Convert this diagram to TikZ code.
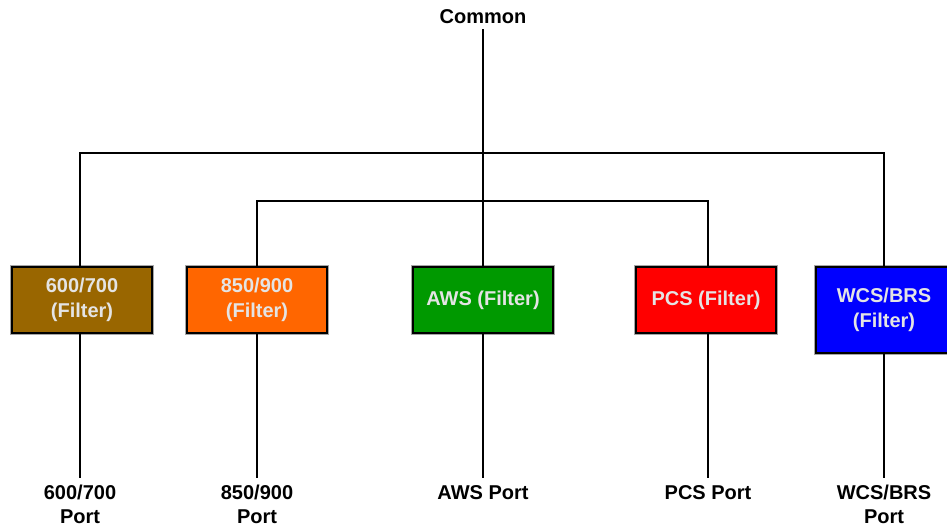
\documentclass[tikz,border=0pt]{standalone}
\usepackage{fontspec}
\setmainfont{Liberation Sans}
\definecolor{cbrown}{HTML}{996600}
\definecolor{corange}{HTML}{FF6600}
\definecolor{cgreen}{HTML}{009900}
\definecolor{cred}{HTML}{FF0000}
\definecolor{cblue}{HTML}{0000FF}
\definecolor{boxtext}{HTML}{E4E4E4}
\tikzset{
  lbl/.style={font=\bfseries\fontsize{20}{24}\selectfont, align=center, text=black},
  filterbox/.style={draw=black, line width=2pt, minimum width=140pt, minimum height=66pt,
    inner sep=0pt, font=\bfseries\fontsize{20}{25}\selectfont, align=center, text=boxtext,
    preaction={draw=black!35, line width=3.5pt}},
  portlbl/.style={lbl, anchor=north, inner sep=7pt},
  wire/.style={line width=2pt, black}
}
\begin{document}
\begin{tikzpicture}[x=1pt,y=-1pt]
\useasboundingbox (0,0) rectangle (947,527);
\fill[white] (0,0) rectangle (947,527);

\node[lbl, inner sep=5pt] (common) at (483,17) {Common};

\node[filterbox, fill=cbrown]  (b1) at (82,300)  {600/700\\(Filter)};
\node[filterbox, fill=corange] (b2) at (257,300) {850/900\\(Filter)};
\node[filterbox, fill=cgreen]  (b3) at (483,300) {AWS (Filter)};
\node[filterbox, fill=cred]    (b4) at (706,300) {PCS (Filter)};
\node[filterbox, fill=cblue, minimum width=136pt, minimum height=86pt] (b5) at (884,310) {WCS/BRS\\(Filter)};

\node[portlbl] (p1) at (80,478)  {600/700\\Port};
\node[portlbl] (p2) at (257,478) {850/900\\Port};
\node[portlbl] (p3) at (483,478) {AWS Port};
\node[portlbl] (p4) at (708,478) {PCS Port};
\node[portlbl] (p5) at (884,478) {WCS/BRS\\Port};

\coordinate (j1) at (483,153);
\coordinate (j2) at (483,201);

\draw[wire, line width=2.5pt] (common.south) -- (b3.north);
\draw[wire] (p1.north |- b1.north) |- (j1) -| (p5.north |- b5.north);
\draw[wire] (b2.north) |- (j2) -| (p4.north |- b4.north);

\draw[wire] (p1.north |- b1.south) -- (p1.north);
\draw[wire] (b2.south) -- (p2.north);
\draw[wire] (b3.south) -- (p3.north);
\draw[wire] (p4.north |- b4.south) -- (p4.north);
\draw[wire] (b5.south) -- (p5.north);
\end{tikzpicture}
\end{document}
